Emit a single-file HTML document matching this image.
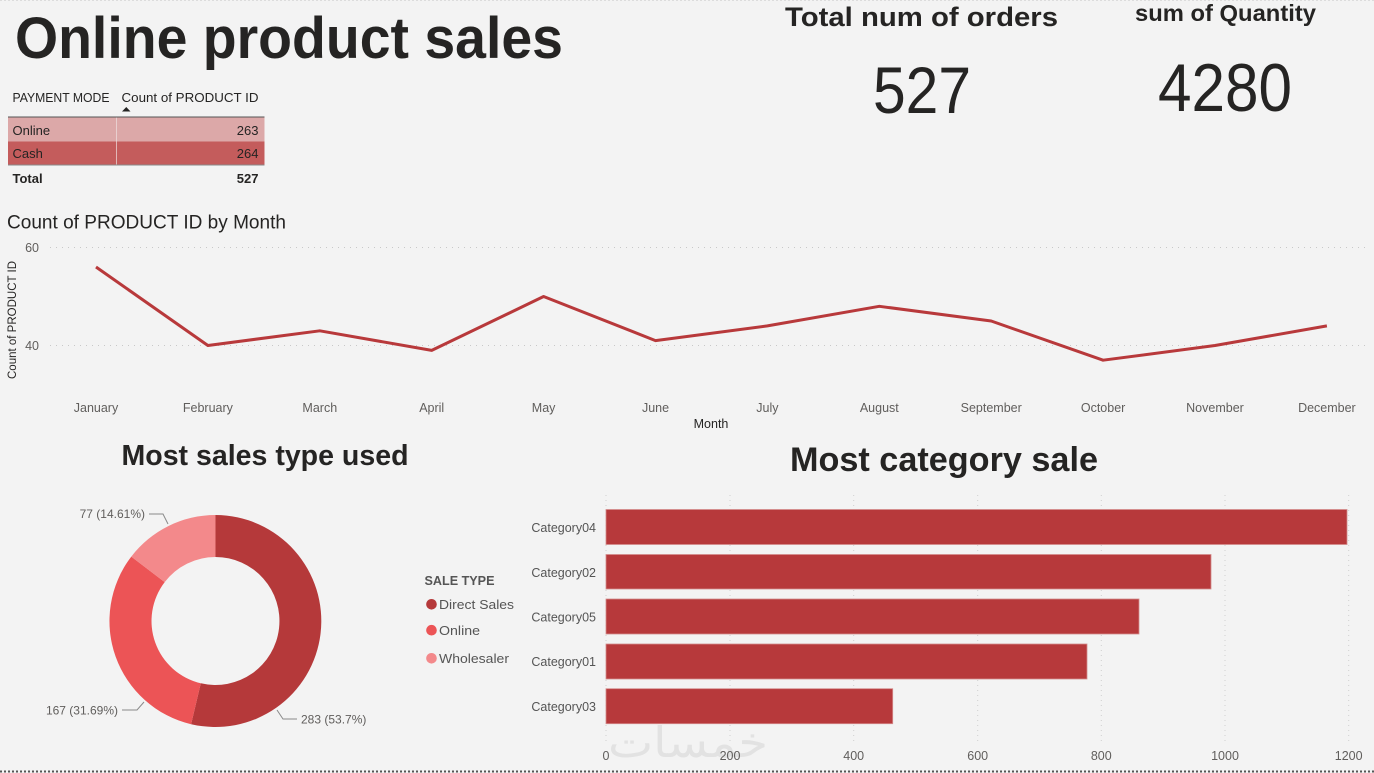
<!DOCTYPE html>
<html><head><meta charset="utf-8"><style>
html,body{margin:0;padding:0;background:#f3f3f3;}
svg{display:block;}
text{font-family:"Liberation Sans","DejaVu Sans",sans-serif;}
</style></head><body>
<svg width="1374" height="773" viewBox="0 0 1374 773" xmlns="http://www.w3.org/2000/svg">
<rect x="0" y="0" width="1374" height="773" fill="#f3f3f3"/>
<line x1="0" y1="0.5" x2="1374" y2="0.5" stroke="#dcdcdc" stroke-width="1" stroke-dasharray="2 2"/>

<!-- Main title -->
<text x="15" y="58" font-size="58" font-weight="bold" fill="#252423" textLength="548" lengthAdjust="spacingAndGlyphs">Online product sales</text>

<!-- KPIs -->
<text x="785" y="26" font-size="27" font-weight="bold" fill="#252423" textLength="273" lengthAdjust="spacingAndGlyphs">Total num of orders</text>
<text x="873" y="113" font-size="66" fill="#252423" textLength="98" lengthAdjust="spacingAndGlyphs">527</text>
<text x="1135" y="21" font-size="23" font-weight="bold" fill="#252423" textLength="181" lengthAdjust="spacingAndGlyphs">sum of Quantity</text>
<text x="1158" y="111" font-size="68" fill="#252423" textLength="134" lengthAdjust="spacingAndGlyphs">4280</text>

<!-- Table -->
<text x="12.5" y="102" font-size="12.5" fill="#252423" textLength="97" lengthAdjust="spacingAndGlyphs">PAYMENT MODE</text>
<text x="121.5" y="102" font-size="12.5" fill="#252423" textLength="137" lengthAdjust="spacingAndGlyphs">Count of PRODUCT ID</text>
<polygon points="122,111.5 130.5,111.5 126.3,107" fill="#252423"/>
<line x1="8" y1="117" x2="264.5" y2="117" stroke="#555" stroke-width="1"/>
<rect x="8" y="117.5" width="256.5" height="24" fill="#dca8a8"/>
<rect x="8" y="141.5" width="256.5" height="23" fill="#c45c5c"/>
<line x1="116.5" y1="117.5" x2="116.5" y2="164.5" stroke="#efe0e0" stroke-width="1" opacity="0.7"/>
<line x1="8" y1="165" x2="264.5" y2="165" stroke="#8a8a8a" stroke-width="1"/>
<text x="12.5" y="135" font-size="13" fill="#252423">Online</text>
<text x="258.5" y="135" font-size="13" fill="#252423" text-anchor="end">263</text>
<text x="12.5" y="158" font-size="13" fill="#252423">Cash</text>
<text x="258.5" y="158" font-size="13" fill="#252423" text-anchor="end">264</text>
<text x="12.5" y="183" font-size="13" font-weight="bold" fill="#252423">Total</text>
<text x="258.5" y="183" font-size="13" font-weight="bold" fill="#252423" text-anchor="end">527</text>

<!-- Line chart -->
<text x="7" y="228.5" font-size="19" fill="#252423" textLength="279" lengthAdjust="spacingAndGlyphs">Count of PRODUCT ID by Month</text>
<line x1="50" y1="247.5" x2="1370" y2="247.5" stroke="#c8c8c8" stroke-width="1" stroke-dasharray="1 5"/>
<line x1="50" y1="345.5" x2="1370" y2="345.5" stroke="#c8c8c8" stroke-width="1" stroke-dasharray="1 5"/>
<text x="39" y="252" font-size="12.5" fill="#605e5c" text-anchor="end">60</text>
<text x="39" y="350" font-size="12.5" fill="#605e5c" text-anchor="end">40</text>
<text transform="translate(16,320) rotate(-90)" font-size="11.5" fill="#252423" text-anchor="middle">Count of PRODUCT ID</text>
<polyline fill="none" stroke="#b8393b" stroke-width="3" stroke-linejoin="round" points="96,267 207.9,345.5 319.8,330.8 431.7,350.4 543.6,296.5 655.5,340.6 767.4,325.9 879.3,306.3 991.2,321 1103.1,360.2 1215,345.5 1326.9,325.9"/>
<g font-size="12.5" fill="#605e5c" text-anchor="middle">
<text x="96" y="412">January</text>
<text x="207.9" y="412">February</text>
<text x="319.8" y="412">March</text>
<text x="431.7" y="412">April</text>
<text x="543.6" y="412">May</text>
<text x="655.5" y="412">June</text>
<text x="767.4" y="412">July</text>
<text x="879.3" y="412">August</text>
<text x="991.2" y="412">September</text>
<text x="1103.1" y="412">October</text>
<text x="1215" y="412">November</text>
<text x="1326.9" y="412">December</text>
</g>
<text x="711" y="428" font-size="12.5" fill="#252423" text-anchor="middle">Month</text>

<!-- Donut -->
<text x="265" y="465" font-size="29" font-weight="bold" fill="#252423" text-anchor="middle" textLength="287" lengthAdjust="spacingAndGlyphs">Most sales type used</text>
<path d="M215.5,515 A106,106 0 1 1 191.1,724.2 L200.8,683.3 A64,64 0 1 0 215.5,557 Z" fill="#b5393a"/>
<path d="M191.1,724.2 A106,106 0 0 1 131.3,556.6 L164.7,582.1 A64,64 0 0 0 200.8,683.3 Z" fill="#ec5456"/>
<path d="M131.3,556.6 A106,106 0 0 1 215.5,515 L215.5,557 A64,64 0 0 0 164.7,582.1 Z" fill="#f3898b"/>
<polyline points="149,514 163,514 168,524" fill="none" stroke="#8a8a8a" stroke-width="1"/>
<polyline points="122,710 137,710 144,702" fill="none" stroke="#8a8a8a" stroke-width="1"/>
<polyline points="277,710 283,719 297,719" fill="none" stroke="#8a8a8a" stroke-width="1"/>
<g font-size="12" fill="#605e5c">
<text x="145" y="518" text-anchor="end">77 (14.61%)</text>
<text x="118" y="714.5" text-anchor="end">167 (31.69%)</text>
<text x="301" y="723.5">283 (53.7%)</text>
</g>
<text x="424.5" y="585" font-size="12.5" font-weight="bold" fill="#555" textLength="70" lengthAdjust="spacingAndGlyphs">SALE TYPE</text>
<circle cx="431.5" cy="604.3" r="5.3" fill="#b5393a"/>
<circle cx="431.5" cy="630.2" r="5.3" fill="#ec5456"/>
<circle cx="431.5" cy="658.3" r="5.3" fill="#f3898b"/>
<g font-size="13" fill="#555">
<text x="439" y="609" textLength="75" lengthAdjust="spacingAndGlyphs">Direct Sales</text>
<text x="439" y="635" textLength="41" lengthAdjust="spacingAndGlyphs">Online</text>
<text x="439" y="663" textLength="70" lengthAdjust="spacingAndGlyphs">Wholesaler</text>
</g>

<!-- Bar chart -->
<text x="944" y="471" font-size="34" font-weight="bold" fill="#252423" text-anchor="middle" textLength="308" lengthAdjust="spacingAndGlyphs">Most category sale</text>
<g stroke="#cfcfcf" stroke-width="1" stroke-dasharray="1 4">
<line x1="606" y1="495" x2="606" y2="742"/>
<line x1="730" y1="495" x2="730" y2="742"/>
<line x1="853.7" y1="495" x2="853.7" y2="742"/>
<line x1="977.7" y1="495" x2="977.7" y2="742"/>
<line x1="1101.3" y1="495" x2="1101.3" y2="742"/>
<line x1="1225" y1="495" x2="1225" y2="742"/>
<line x1="1348.7" y1="495" x2="1348.7" y2="742"/>
</g>
<text x="688" y="757" font-size="42" fill="#e2e2e2" text-anchor="middle" font-family="DejaVu Sans, sans-serif" textLength="160" lengthAdjust="spacingAndGlyphs">خمسات</text>
<g fill="#b7393b" stroke="#d48c8c" stroke-width="0.8">
<rect x="606" y="509.5" width="741" height="35"/>
<rect x="606" y="554.5" width="605" height="34.5"/>
<rect x="606" y="599" width="533" height="35"/>
<rect x="606" y="644" width="481" height="35"/>
<rect x="606" y="688.7" width="286.7" height="35"/>
</g>
<g font-size="12.5" fill="#555" text-anchor="end">
<text x="596" y="532">Category04</text>
<text x="596" y="577">Category02</text>
<text x="596" y="621.5">Category05</text>
<text x="596" y="666">Category01</text>
<text x="596" y="711">Category03</text>
</g>
<g font-size="12.5" fill="#605e5c" text-anchor="middle">
<text x="606" y="760">0</text>
<text x="730" y="760">200</text>
<text x="853.7" y="760">400</text>
<text x="977.7" y="760">600</text>
<text x="1101.3" y="760">800</text>
<text x="1225" y="760">1000</text>
<text x="1348.7" y="760">1200</text>
</g>

<line x1="0" y1="771.5" x2="1374" y2="771.5" stroke="#555" stroke-width="2" stroke-dasharray="2 2"/>
</svg>
</body></html>
